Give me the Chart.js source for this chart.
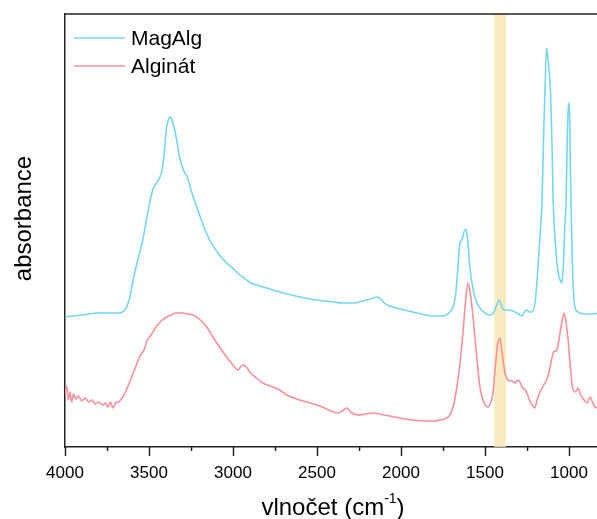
<!DOCTYPE html>
<html>
<head>
<meta charset="utf-8">
<script src="https://cdn.jsdelivr.net/npm/chart.js@4/dist/chart.umd.min.js"></script>
<style>
  html, body { margin: 0; padding: 0; background: #fff; }
  #wrap { width: 597px; height: 519px; }
</style>
</head>
<body>
<div id="wrap"><canvas id="irChart"></canvas></div>
<script>
// FTIR spectra, absorbance in arbitrary units
const wnMag = [4000, 3900, 3800, 3700, 3675, 3650, 3633, 3615, 3598, 3570, 3537, 3510, 3478, 3455, 3437, 3419, 3405, 3395, 3380, 3371,
  3360, 3347, 3330, 3318, 3295, 3270, 3250, 3216, 3180, 3139, 3090, 3038, 2990, 2960, 2942, 2920, 2880, 2859, 2800, 2722,
  2600, 2502, 2400, 2346, 2280, 2227, 2180, 2144, 2120, 2100, 2066, 2000, 1905, 1800, 1756, 1730, 1709, 1690, 1675, 1662,
  1649, 1637, 1625, 1613, 1600, 1590, 1570, 1548, 1520, 1470, 1450, 1430, 1417, 1405, 1390, 1360, 1333, 1300, 1280, 1265,
  1251, 1235, 1220, 1200, 1184, 1170, 1160, 1150, 1140, 1133, 1125, 1118, 1110, 1100, 1094, 1080, 1065, 1050, 1043, 1035,
  1025, 1017, 1010, 1003, 998, 992, 988, 980, 970, 958, 946, 900, 860, 833];
const absMag = [130, 132, 134, 134, 134, 136, 140, 149, 164, 185, 207, 232, 257, 264, 269, 280, 302, 320, 329, 330,
  325, 317, 302, 290, 277, 269, 257, 240, 223, 207, 194, 184, 177, 172, 170, 167, 163, 162, 159, 155,
  150, 147, 145, 144, 144, 146, 148, 150, 148, 144, 141, 138, 134, 131, 131, 132, 135, 140, 152, 177,
  204, 207, 215, 218, 202, 180, 157, 144, 137, 132, 134, 142, 147, 143, 137, 137, 136, 133, 131, 135,
  137, 135, 135, 147, 180, 217, 247, 317, 372, 399, 389, 376, 357, 297, 247, 202, 175, 166, 164, 177,
  217, 247, 307, 344, 342, 287, 247, 187, 147, 137, 135, 133, 133, 134];

const wnAlg = [4000, 3990, 3980, 3970, 3960, 3950, 3935, 3920, 3900, 3880, 3860, 3840, 3820, 3800, 3776, 3760, 3745, 3730, 3715, 3700,
  3680, 3657, 3640, 3620, 3603, 3580, 3556, 3530, 3510, 3496, 3470, 3450, 3420, 3395, 3370, 3340, 3300, 3270, 3239, 3200,
  3156, 3120, 3080, 3038, 3000, 2972, 2955, 2942, 2920, 2900, 2860, 2823, 2780, 2722, 2680, 2603, 2540, 2483, 2430, 2376,
  2350, 2323, 2300, 2257, 2210, 2167, 2100, 2006, 1930, 1869, 1800, 1768, 1740, 1709, 1690, 1670, 1650, 1631, 1615, 1601,
  1590, 1571, 1550, 1530, 1510, 1482, 1465, 1452, 1440, 1425, 1411, 1400, 1381, 1363, 1340, 1320, 1305, 1292, 1275, 1260,
  1251, 1230, 1215, 1203, 1190, 1173, 1150, 1126, 1110, 1094, 1080, 1072, 1060, 1045, 1029, 1018, 1005, 990, 976, 960,
  946, 930, 910, 892, 874, 860, 845, 833];
const absAlg = [52, 61, 47, 55, 45, 53, 48, 51, 46, 49, 45, 47, 43, 45, 42, 44, 40, 45, 39, 44,
  45, 50, 55, 63, 70, 80, 90, 97, 107, 110, 117, 122, 127, 130, 132, 134, 134, 133, 132, 128,
  120, 110, 100, 90, 82, 77, 80, 82, 80, 75, 69, 64, 61, 57, 52, 47, 44, 41, 37, 34,
  36, 39, 35, 32, 33, 34, 32, 29, 27, 26, 26, 27, 28, 32, 40, 57, 82, 114, 147, 164,
  157, 130, 92, 60, 46, 40, 45, 54, 77, 102, 109, 97, 74, 67, 66, 64, 67, 65, 59, 57,
  54, 45, 41, 39, 47, 55, 62, 70, 82, 94, 96, 97, 107, 122, 134, 125, 107, 77, 57, 55,
  59, 52, 47, 44, 50, 45, 40, 39];

const seriesNames = ['MagAlg', 'Alginát'];
const seriesColors = ['#74d6f2', '#ff8f98'];
const bandRange = [1445, 1375];
const xTickLabels = [4000, 3500, 3000, 2500, 2000, 1500, 1000];

const FONT = "'Liberation Sans', Arial, sans-serif";

function toPoints(xs, ys) {
  return xs.map((x, i) => ({ x, y: ys[i] }));
}

// yellow band, frame, minor ticks, legend and axis titles
const decorPlugin = {
  id: 'decor',
  beforeDatasetsDraw(chart) {
    const { ctx, chartArea: a, scales: { x } } = chart;
    const x1 = x.getPixelForValue(bandRange[0]);
    const x2 = x.getPixelForValue(bandRange[1]);
    ctx.save();
    ctx.fillStyle = 'rgba(248, 232, 180, 0.85)';
    ctx.fillRect(x1, a.top, x2 - x1, a.bottom - a.top);
    ctx.restore();
  },
  afterDraw(chart) {
    const { ctx, chartArea: a, scales: { x } } = chart;
    ctx.save();
    ctx.strokeStyle = '#222';
    ctx.lineWidth = 1.5;
    ctx.beginPath();
    ctx.moveTo(a.left, a.top);
    ctx.lineTo(chart.width, a.top);
    ctx.stroke();

    // ticks: long at labels, short between
    for (let v = 1000; v <= 4000; v += 250) {
      const px = Math.round(x.getPixelForValue(v)) + 0.5;
      const len = xTickLabels.includes(v) ? 9 : 4;
      ctx.beginPath();
      ctx.moveTo(px, a.bottom);
      ctx.lineTo(px, a.bottom + len);
      ctx.stroke();
    }

    // legend
    ctx.font = '21px ' + FONT;
    ctx.textBaseline = 'middle';
    chart.data.datasets.forEach((ds, i) => {
      const y = 38 + i * 28;
      ctx.strokeStyle = ds.borderColor;
      ctx.lineWidth = 1.5;
      ctx.beginPath();
      ctx.moveTo(74, y);
      ctx.lineTo(125, y);
      ctx.stroke();
      ctx.fillStyle = '#000';
      ctx.fillText(ds.label, 131, y + 1);
    });

    // y title
    ctx.save();
    ctx.translate(24, (a.top + a.bottom) / 2 - 12);
    ctx.rotate(-Math.PI / 2);
    ctx.font = '24px ' + FONT;
    ctx.textAlign = 'center';
    ctx.textBaseline = 'middle';
    ctx.fillText('absorbance', 0, 0);
    ctx.restore();

    // x title with superscript
    const main = 'vlnočet (cm';
    const sup = '-1';
    const end = ')';
    ctx.font = '24px ' + FONT;
    const w1 = ctx.measureText(main).width;
    const w3 = ctx.measureText(end).width;
    ctx.font = '14px ' + FONT;
    const w2 = ctx.measureText(sup).width;
    const total = w1 + w2 + w3;
    let tx = (a.left + a.right) / 2 - total / 2 + 2;
    const ty = 508;
    ctx.textAlign = 'left';
    ctx.textBaseline = 'middle';
    ctx.font = '24px ' + FONT;
    ctx.fillText(main, tx, ty);
    tx += w1;
    ctx.font = '14px ' + FONT;
    ctx.fillText(sup, tx, ty - 9);
    tx += w2;
    ctx.font = '24px ' + FONT;
    ctx.fillText(end, tx, ty);
    ctx.restore();
  }
};

new Chart(document.getElementById('irChart'), {
  type: 'line',
  data: {
    datasets: [
      {
        label: seriesNames[0],
        data: toPoints(wnMag, absMag),
        borderColor: seriesColors[0],
        borderWidth: 1.6,
        pointRadius: 0,
        cubicInterpolationMode: 'monotone',
        fill: false
      },
      {
        label: seriesNames[1],
        data: toPoints(wnAlg, absAlg),
        borderColor: seriesColors[1],
        borderWidth: 1.6,
        pointRadius: 0,
        cubicInterpolationMode: 'monotone',
        fill: false
      }
    ]
  },
  options: {
    responsive: true,
    maintainAspectRatio: false,
    animation: false,
    layout: { padding: { top: 14, right: 0, left: 0, bottom: 0 } },
    plugins: {
      legend: { display: false },
      tooltip: { enabled: false }
    },
    scales: {
      x: {
        type: 'linear',
        reverse: true,
        min: 833,
        max: 4000,
        afterBuildTicks: s => { s.ticks = xTickLabels.map(v => ({ value: v })); },
        afterFit: s => { s.height = 72; s.paddingLeft = 0; s.paddingRight = 0; },
        border: { display: true, color: '#222', width: 1.5 },
        grid: { display: false, drawOnChartArea: false, drawTicks: false },
        ticks: {
          autoSkip: false,
          maxRotation: 0,
          padding: 16,
          color: '#000',
          font: { family: FONT, size: 17 },
          callback: v => String(v)
        }
      },
      y: {
        min: 0,
        max: 433,
        afterFit: s => { s.width = 65; },
        border: { display: true, color: '#222', width: 1.5 },
        grid: { display: false },
        ticks: { display: false }
      }
    }
  },
  plugins: [decorPlugin]
});
</script>
</body>
</html>
